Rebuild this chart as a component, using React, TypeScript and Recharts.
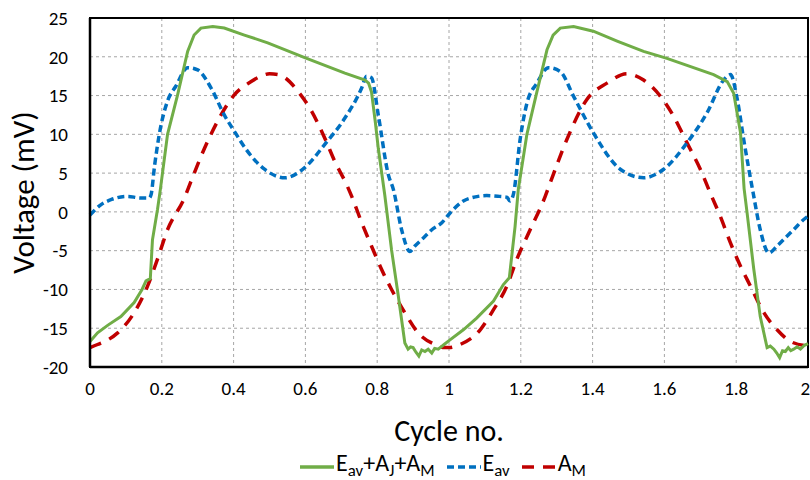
import React from "react";
import {
  LineChart, Line, XAxis, YAxis, CartesianGrid, Legend, ReferenceArea,
} from "recharts";

const FONT = "Carlito, 'Liberation Sans Narrow', Lato, sans-serif";

// E_av + A_J + A_M (green, solid)
const sumX = [
  0, 0.021, 0.05, 0.086, 0.123, 0.145, 0.156, 0.168, 0.174, 0.188, 0.196, 0.216, 0.244, 0.272, 0.29, 0.309,
  0.342, 0.374, 0.43, 0.495, 0.598, 0.71, 0.766, 0.776, 0.784, 0.795, 0.803, 0.821, 0.84, 0.859, 0.877, 0.886,
  0.893, 0.9, 0.908, 0.916, 0.924, 0.933, 0.942, 0.952, 0.96, 0.97, 0.989,
  1.0, 1.04, 1.077, 1.124, 1.151, 1.168, 1.184, 1.193, 1.217, 1.245, 1.273, 1.29, 1.31, 1.347, 1.402, 1.47,
  1.542, 1.607, 1.737, 1.775, 1.793, 1.812, 1.822, 1.83, 1.849, 1.867, 1.886, 1.895, 1.905, 1.913, 1.921,
  1.929, 1.937, 1.945, 1.952, 1.96, 1.97, 1.979, 1.99, 2.0,
];
const sumY = [
  -16.7, -15.6, -14.6, -13.5, -11.7, -10.0, -8.9, -8.6, -3.6, 0.3, 2.9, 10.0, 15.1, 20.7, 22.8, 23.7,
  23.9, 23.7, 22.8, 21.8, 19.9, 17.9, 17.0, 16.6, 15.5, 11.5, 8.2, 2.2, -4.9, -10.9, -16.9, -17.7,
  -17.4, -17.5, -18.1, -18.6, -17.8, -18.0, -17.7, -18.2, -17.6, -17.7, -17.0,
  -16.6, -15.2, -13.7, -11.5, -9.4, -8.5, -1.9, 2.9, 10.0, 15.5, 20.9, 22.8, 23.7, 23.9, 23.3, 22.0,
  20.7, 19.8, 17.7, 16.8, 15.3, 10.2, 3.0, 0.0, -7.4, -13.5, -17.5, -17.3, -17.7, -18.2, -18.8,
  -17.9, -18.0, -17.5, -17.9, -17.7, -17.4, -17.7, -17.2, -17.0,
];

// E_av (blue, short dashes)
const eavX = [
  0, 0.03, 0.06, 0.105, 0.14, 0.165, 0.17, 0.18, 0.193, 0.216, 0.239, 0.272, 0.3, 0.337, 0.374, 0.402,
  0.439, 0.486, 0.543, 0.598, 0.654, 0.71, 0.757, 0.77, 0.784, 0.803, 0.831, 0.845, 0.868, 0.891, 0.905,
  0.93, 0.952, 0.98,
  1.0, 1.04, 1.07, 1.105, 1.14, 1.161, 1.17, 1.18, 1.198, 1.217, 1.245, 1.277, 1.31, 1.347, 1.402, 1.477,
  1.542, 1.598, 1.663, 1.719, 1.765, 1.784, 1.803, 1.821, 1.847, 1.867, 1.891, 1.914, 1.94, 1.96, 1.993, 2.0,
];
const eavY = [
  -0.4, 0.9, 1.6, 2.0, 1.8, 1.8, 2.2, 6.0, 10.0, 14.3, 16.2, 18.6, 18.3, 16.0, 12.5, 10.4,
  7.8, 5.5, 4.4, 5.7, 8.7, 12.1, 16.0, 17.5, 17.3, 12.5, 4.8, 2.9, -2.3, -5.1, -4.4,
  -3.3, -2.3, -1.4,
  -0.3, 1.4, 1.9, 2.1, 2.0, 1.9, 1.4, 2.4, 9.3, 14.0, 16.6, 18.6, 18.1, 14.9, 10.2, 5.5,
  4.4, 5.5, 8.9, 12.8, 17.0, 17.7, 14.5, 9.3, 2.5, -2.3, -5.3, -4.4, -3.2, -2.3, -0.8, -0.6,
];

// A_M (red, long dashes)
const amX = [
  0, 0.021, 0.05, 0.077, 0.123, 0.16, 0.188, 0.216, 0.263, 0.281, 0.319, 0.365, 0.402, 0.449, 0.476, 0.5,
  0.524, 0.543, 0.58, 0.617, 0.654, 0.682, 0.715, 0.729, 0.757, 0.784, 0.812, 0.84, 0.877, 0.914, 0.961, 0.989,
  1.0, 1.031, 1.087, 1.124, 1.161, 1.189, 1.226, 1.268, 1.28, 1.328, 1.384, 1.44, 1.496, 1.542, 1.589, 1.626,
  1.663, 1.7, 1.728, 1.756, 1.784, 1.812, 1.84, 1.877, 1.914, 1.951, 2.0,
];
const amY = [
  -17.5, -17.1, -16.5, -15.6, -13.0, -9.6, -6.1, -2.3, 1.8, 3.9, 8.2, 12.5, 15.1, 16.8, 17.5, 17.8,
  17.7, 17.3, 15.5, 13.0, 9.5, 6.5, 3.5, 2.0, -1.4, -4.4, -7.4, -10.0, -13.0, -15.6, -17.1, -17.5,
  -17.5, -17.1, -15.2, -12.6, -9.6, -6.1, -2.3, 2.0, 3.5, 9.3, 14.5, 16.6, 17.8, 17.0, 14.9, 12.3,
  8.9, 5.5, 2.4, -0.6, -4.0, -7.0, -9.6, -13.0, -15.2, -16.7, -17.3,
];

const xTicks = [0, 0.2, 0.4, 0.6, 0.8, 1, 1.2, 1.4, 1.6, 1.8, 2];
const yTicks = [-20, -15, -10, -5, 0, 5, 10, 15, 20, 25];

const toPoints = (xs: number[], ys: number[]) => xs.map((x, i) => ({ x, y: ys[i] }));

const sumData = toPoints(sumX, sumY);
const eavData = toPoints(eavX, eavY);
const amData = toPoints(amX, amY);

function LegendContent() {
  const item = (color: string, dash: string | undefined, label: React.ReactNode) => (
    <span style={{ display: "inline-flex", alignItems: "center", marginRight: 12 }}>
      <svg width={34} height={10} style={{ marginRight: 2 }}>
        <line x1={0} y1={5} x2={34} y2={5} stroke={color} strokeWidth={3.5} strokeDasharray={dash} />
      </svg>
      <span>{label}</span>
    </span>
  );
  const sub = { fontSize: "0.7em", verticalAlign: "-0.3em" } as React.CSSProperties;
  return (
    <div style={{ textAlign: "center", paddingLeft: 90, fontFamily: FONT, fontSize: 24, color: "#000", lineHeight: "30px" }}>
      {item("#70AD47", undefined, <>E<span style={sub}>av</span>+A<span style={sub}>J</span>+A<span style={sub}>M</span></>)}
      {item("#0070C0", "7 4", <>E<span style={sub}>av</span></>)}
      {item("#C00000", "12 9", <>A<span style={sub}>M</span></>)}
    </div>
  );
}

export default function App() {
  const tick = { fontSize: 19, fill: "#000", fontFamily: FONT };
  return (
    <div style={{ position: "absolute", left: 0, top: 0, width: 810, height: 480, background: "#fff" }}>
      <LineChart width={810} height={480} margin={{ top: 18, right: 2, left: 0, bottom: 0 }}>
        <CartesianGrid stroke="#a6a6a6" strokeDasharray="3 3" />
        <XAxis
          dataKey="x"
          type="number"
          domain={[0, 2]}
          ticks={xTicks}
          tick={tick}
          tickLine={false}
          tickMargin={9}
          axisLine={{ stroke: "#000", strokeWidth: 2.5 }}
          allowDuplicatedCategory={false}
          height={81}
          label={{ value: "Cycle no.", position: "insideBottom", offset: 7, style: { fontSize: 30, fill: "#000", fontFamily: FONT } }}
        />
        <YAxis
          type="number"
          domain={[-20, 25]}
          ticks={yTicks}
          tick={tick}
          tickLine={false}
          tickMargin={16}
          axisLine={{ stroke: "#000", strokeWidth: 2.5 }}
          width={90}
          label={{ value: "Voltage (mV)", angle: -90, position: "center", dx: -22, style: { fontSize: 31, fill: "#000", fontFamily: FONT, textAnchor: "middle" } }}
        />
        <ReferenceArea x1={0} x2={2} y1={-20} y2={25} fill="none" stroke="#000" strokeWidth={2} />
        <Legend verticalAlign="bottom" height={32} content={<LegendContent />} />
        <Line data={amData} dataKey="y" type="monotone" stroke="#C00000" strokeWidth={3.5} strokeDasharray="12 9" dot={false} isAnimationActive={false} />
        <Line data={eavData} dataKey="y" type="monotone" stroke="#0070C0" strokeWidth={3.5} strokeDasharray="7 4" dot={false} isAnimationActive={false} />
        <Line data={sumData} dataKey="y" type="linear" stroke="#70AD47" strokeWidth={3} dot={false} isAnimationActive={false} />
      </LineChart>
    </div>
  );
}
